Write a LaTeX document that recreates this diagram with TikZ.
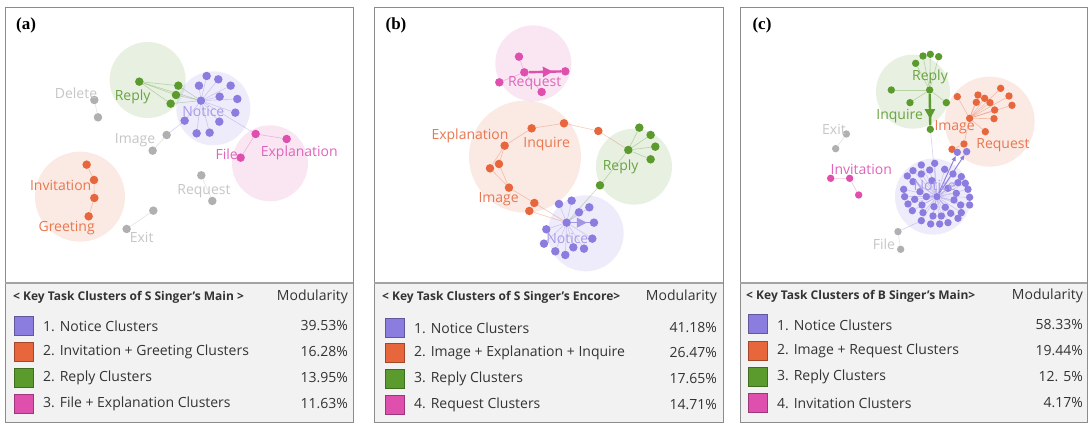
\documentclass[tikz,border=0pt]{standalone}
\usepackage{fontspec}
\setmainfont{Open Sans}
\newfontfamily\serifp{Liberation Serif}
\usetikzlibrary{arrows.meta,decorations.markings}
\definecolor{cpur}{HTML}{8B7DDF}
\definecolor{corg}{HTML}{E8663C}
\definecolor{cgrn}{HTML}{5B9B2E}
\definecolor{cpnk}{HTML}{DF4FAE}
\definecolor{cgry}{HTML}{B0B0B0}
\definecolor{lpur}{HTML}{A79CE9}
\definecolor{lorg}{HTML}{E97750}
\definecolor{lgrn}{HTML}{6AA440}
\definecolor{lpnk}{HTML}{E064BB}
\definecolor{lgry}{HTML}{C6C6C6}
\definecolor{tabbg}{HTML}{F2F2F2}
\definecolor{frame}{HTML}{8C8C8C}
\definecolor{txt}{HTML}{333333}
\pgfdeclarelayer{bgl}
\pgfdeclarelayer{blobl}
\pgfdeclarelayer{edgel}
\pgfsetlayers{bgl,blobl,edgel,main}
\tikzset{
  dotA/.style={circle,inner sep=0pt,minimum size=8.5pt,fill=#1,draw=none},
  dotC/.style={circle,inner sep=0pt,minimum size=7.4pt,fill=#1,draw=none},
  edge/.style={draw=#1,draw opacity=0.35,line width=0.6pt},
  blob/.style={circle,inner sep=0pt,fill=#1,fill opacity=0.14,draw=none},
  lab/.style={text=#1,font=\fontsize{14}{16}\selectfont,inner sep=0pt},
  heavy/.style={draw=#1,line width=2.4pt},
  midarrow/.style={decoration={markings,mark=at position #1 with {\arrow{Triangle[length=10pt,width=10pt]}}},postaction={decorate}},
  panel/.style={draw=frame,line width=0.8pt},
  sq/.style={minimum size=19pt,inner sep=0pt,fill=#1,draw=#1!70!black,line width=0.4pt},
  head/.style={text=txt,font=\bfseries\fontsize{12}{14}\selectfont,inner sep=0pt},
  row/.style={text=txt,font=\fontsize{14}{16}\selectfont,inner sep=0pt},
  plab/.style={font=\serifp\bfseries\fontsize{17}{19}\selectfont,inner sep=0pt,text=black}
}
\begin{document}
\begin{tikzpicture}[x=1pt,y=-1pt]
\useasboundingbox (0,0) rectangle (1092,428);
\begin{pgfonlayer}{bgl}
\fill[white] (0,0) rectangle (1092,428);
\fill[tabbg] (5,283) rectangle (353,422);
\fill[tabbg] (374,283) rectangle (723,422);
\fill[tabbg] (740,283) rectangle (1087,422);
\end{pgfonlayer}

% ---------------- frames and tables ----------------
\draw[panel] (5,7) rectangle (353,422);
\draw[panel] (374,7) rectangle (723,422);
\draw[panel] (740,7) rectangle (1087,422);
\draw[draw=frame!80,line width=1.6pt] (5,283) -- (353,283);
\draw[draw=frame!80,line width=1.6pt] (374,283) -- (723,283);
\draw[draw=frame!80,line width=1.6pt] (740,283) -- (1087,283);

\node[plab] (la) at (26,25) {(a)};
\node[plab] (lb) at (396,25) {(b)};
\node[plab] (lc) at (762,25) {(c)};

% table (a)
\node[head,anchor=west] (ah) at (13,297) {< Key Task Clusters of S Singer's Main >};
\node[row,anchor=east] (am) at (348,297) {Modularity};
\node[sq=cpur] (as1) at (23.5,326) {};
\node[sq=corg] (as2) at (23.5,352) {};
\node[sq=cgrn] (as3) at (23.5,378) {};
\node[sq=cpnk] (as4) at (23.5,404) {};
\node[row,anchor=west] (at1) at (43,326) {1. Notice Clusters};
\node[row,anchor=west] (at2) at (43,352) {2. Invitation + Greeting Clusters};
\node[row,anchor=west] (at3) at (43,378) {2. Reply Clusters};
\node[row,anchor=west] (at4) at (43,404) {3. File + Explanation Clusters};
\node[row,anchor=east] (av1) at (348,326) {39.53\%};
\node[row,anchor=east] (av2) at (348,352) {16.28\%};
\node[row,anchor=east] (av3) at (348,378) {13.95\%};
\node[row,anchor=east] (av4) at (348,404) {11.63\%};

% table (b)
\node[head,anchor=west] (bh) at (382,297) {< Key Task Clusters of S Singer's Encore>};
\node[row,anchor=east] (bm) at (717,297) {Modularity};
\node[sq=cpur] (bs1) at (395,328) {};
\node[sq=corg] (bs2) at (395,353) {};
\node[sq=cgrn] (bs3) at (395,379) {};
\node[sq=cpnk] (bs4) at (395,405) {};
\node[row,anchor=west] (bt1) at (414,328) {1. Notice Clusters};
\node[row,anchor=west] (bt2) at (414,353) {2. Image + Explanation + Inquire};
\node[row,anchor=west] (bt3) at (414,379) {3. Reply Clusters};
\node[row,anchor=west] (bt4) at (414,405) {4. Request Clusters};
\node[row,anchor=east] (bv1) at (717,328) {41.18\%};
\node[row,anchor=east] (bv2) at (717,353) {26.47\%};
\node[row,anchor=east] (bv3) at (717,379) {17.65\%};
\node[row,anchor=east] (bv4) at (717,405) {14.71\%};

% table (c)
\node[head,anchor=west] (ch) at (746,296) {< Key Task Clusters of B Singer's Main>};
\node[row,anchor=east] (cm) at (1083,296) {Modularity};
\node[sq=cpur] (cs1) at (757.5,324) {};
\node[sq=corg] (cs2) at (757.5,351) {};
\node[sq=cgrn] (cs3) at (757.5,377) {};
\node[sq=cpnk] (cs4) at (757.5,403) {};
\node[row,anchor=west] (ct1) at (777,325) {1. Notice Clusters};
\node[row,anchor=west] (ct2) at (777,351) {2. Image + Request Clusters};
\node[row,anchor=west] (ct3) at (777,377) {3. Reply Clusters};
\node[row,anchor=west] (ct4) at (777,403) {4. Invitation Clusters};
\node[row,anchor=east] (cv1) at (1083,325) {58.33\%};
\node[row,anchor=east] (cv2) at (1083,351) {19.44\%};
\node[row,anchor=east] (cv3) at (1083,377) {12. 5\%};
\node[row,anchor=east] (cv4) at (1083,403) {4.17\%};

% ---------------- panel (a) graph ----------------
\begin{scope}[shift={(0pt,0pt)},x=0.3333pt,y=-0.3333pt]
\begin{pgfonlayer}{blobl}
\node[blob=cgrn,minimum size=76pt] (aCg) at (443,240) {};
\node[blob=cpur,minimum size=74pt] (aCp) at (640,325) {};
\node[blob=cpnk,minimum size=76pt] (aCk) at (810,490) {};
\node[blob=corg,minimum size=90pt] (aCo) at (240,590) {};
\end{pgfonlayer}
\foreach \x/\y [count=\i] in {418/245,535/257,528/285,512/311}
  \node[dotA=cgrn] (ag\i) at (\x,\y) {};
\foreach \x/\y [count=\i] in {620/228,655/238,597/257,692/257,603/302,659/290,712/297,706/338,554/362,658/365,590/400,629/398}
  \node[dotA=cpur] (ap\i) at (\x,\y) {};
\foreach \x/\y [count=\i] in {767/402,860/417,722/473}
  \node[dotA=cpnk] (ak\i) at (\x,\y) {};
\foreach \x/\y [count=\i] in {260/494,282/540,283/594,266/649}
  \node[dotA=corg] (ao\i) at (\x,\y) {};
\foreach \x/\y [count=\i] in {283/300,294/352,500/405,458/452,604/526,637/603,460/632,380/687}
  \node[dotA=cgry] (ay\i) at (\x,\y) {};
\begin{pgfonlayer}{edgel}
\foreach \i in {2,3,4} \draw[edge=cgrn] (ag1) -- (ag\i);
\foreach \i in {1,2,3,4} \draw[edge=cgrn] (ag\i) -- (ap5);
\foreach \i in {1,2,3,4,6,7,8,9,10,11,12} \draw[edge=cpur] (ap5) -- (ap\i);
\draw[edge=cpur] (ap5) -- (ak1);
\draw[edge=cpnk] (ak1) -- (ak2);
\draw[edge=cpnk] (ak1) -- (ak3);
\draw[edge=corg] (ao1) -- (ao2) -- (ao3) -- (ao4);
\draw[edge=cgry] (ay1) -- (ay2);
\draw[edge=cgry] (ay3) -- (ay4);
\draw[edge=cpur] (ay3) -- (ap9);
\draw[edge=cgry] (ay5) -- (ay6);
\draw[edge=cgry] (ay7) -- (ay8);
\end{pgfonlayer}
\node[lab=lgrn] (aLr) at (398,292) {Reply};
\node[lab=lpur] (aLn) at (610,335) {Notice};
\node[lab=lpnk] (aLf) at (680,462) {File};
\node[lab=lpnk] (aLe) at (898,460) {Explanation};
\node[lab=lorg] (aLi) at (182,556) {Invitation};
\node[lab=lorg] (aLg) at (200,683) {Greeting};
\node[lab=lgry] (aLd) at (228,280) {Delete};
\node[lab=lgry] (aLm) at (405,422) {Image};
\node[lab=lgry] (aLq) at (612,573) {Request};
\node[lab=lgry] (aLx) at (425,713) {Exit};
\end{scope}

% ---------------- panel (b) graph ----------------
\begin{scope}[shift={(364pt,0pt)},x=0.3333pt,y=-0.3333pt]
\begin{pgfonlayer}{blobl}
\node[blob=cpnk,minimum size=76pt] (bCk) at (508,190) {};
\node[blob=corg,minimum size=112pt] (bCo) at (483,470) {};
\node[blob=cgrn,minimum size=76pt] (bCg) at (810,500) {};
\node[blob=cpur,minimum size=76pt] (bCp) at (665,700) {};
\end{pgfonlayer}
\foreach \x/\y [count=\i] in {465/170,481/217,604/214,406/247,533/276}
  \node[dotA=cpnk] (bk\i) at (\x,\y) {};
\foreach \x/\y [count=\i] in {503/385,600/370,703/393,422/437,378/505,405/492,435/563,511/609,496/633}
  \node[dotA=corg] (bo\i) at (\x,\y) {};
\foreach \x/\y [count=\i] in {826/383,860/405,874/440,860/478,793/450,708/556}
  \node[dotA=cgrn] (bg\i) at (\x,\y) {};
\foreach \x/\y [count=\i] in {585/612,623/602,676/622,645/637,608/668,690/668,547/688,685/716,540/731,628/742,660/746,574/754,604/765}
  \node[dotA=cpur] (bp\i) at (\x,\y) {};
\begin{pgfonlayer}{edgel}
\draw[edge=cpnk] (bk1) -- (bk2);
\draw[edge=cpnk] (bk4) -- (bk2);
\draw[edge=cpnk] (bk5) -- (bk2);
\draw[edge=corg] (bo1) -- (bo2) -- (bo3);
\draw[edge=corg] (bo3) -- (bg5);
\draw[edge=corg] (bo1) -- (bo4) -- (bo6) -- (bo7);
\draw[edge=corg] (bo4) -- (bo5) -- (bo7);
\draw[edge=corg] (bo7) -- (bo8) -- (bo9);
\draw[edge=corg] (bo9) -- (bp5);
\draw[edge=corg] (bo8) -- (bp5);
\foreach \i in {1,2,3,4,6} \draw[edge=cgrn] (bg5) -- (bg\i);
\draw[edge=cgrn] (bg6) -- (bp5);
\foreach \i in {1,2,3,4,7,8,9,10,11,12,13} \draw[edge=cpur] (bp5) -- (bp\i);
\end{pgfonlayer}
\draw[heavy=cpnk,midarrow=0.75] (bk2) -- (bk3);
\draw[heavy=cpur!80,line width=1.2pt,midarrow=0.85] (bp5) -- (bp6);
\node[lab=lpnk] (bLq) at (512,250) {Request};
\node[lab=lorg] (bLe) at (318,408) {Explanation};
\node[lab=lorg] (bLi) at (548,432) {Inquire};
\node[lab=lorg] (bLm) at (404,598) {Image};
\node[lab=lgrn] (bLr) at (770,500) {Reply};
\node[lab=lpur] (bLn) at (610,715) {Notice};
\end{scope}

% ---------------- panel (c) graph ----------------
\begin{scope}[shift={(728pt,0pt)},x=0.3333pt,y=-0.3333pt]
\begin{pgfonlayer}{blobl}
\node[blob=cgrn,minimum size=74pt] (cCg) at (555,275) {};
\node[blob=corg,minimum size=90pt] (cCo) at (785,365) {};
\node[blob=cpur,minimum size=76pt] (cCp) at (615,590) {};
\end{pgfonlayer}
\foreach \x/\y [count=\i] in {563/190,585/168,607/163,632/170,490/270,605/270,546/308,655/308,607/388}
  \node[dotC=cgrn] (cg\i) at (\x,\y) {};
\foreach \x/\y [count=\i] in {688/290,750/285,770/295,818/265,843/288,852/316,745/307,786/308,800/330,725/355,798/356,772/395,708/432,672/448}
  \node[dotC=corg] (co\i) at (\x,\y) {};
\node[dotC=cpur] (chub) at (627,590) {};
\node[dotC=cpur] (cq1) at (688,457) {};
\node[dotC=cpur] (cq2) at (716,455) {};
\foreach \x/\y [count=\i] in {580/495,620/490,555/512,605/510,650/508,538/528,580/522,675/522,700/530,555/545,612/542,690/548,712/550,527/568,576/575,660/565,720/568,530/590,560/598,595/590,685/580,725/592,540/612,582/615,618/620,652/622,678/600,698/615,725/615,553/632,585/638,615/648,640/648,668/640,700/638,580/662,608/672,635/672,660/668,690/655}
  \node[dotC=cpur] (cp\i) at (\x,\y) {};
\foreach \x/\y [count=\i] in {308/535,365/535,392/585}
  \node[dotC=cpnk] (ck\i) at (\x,\y) {};
\foreach \x/\y [count=\i] in {355/402,323/446,510/695,518/748}
  \node[dotC=cgry] (cy\i) at (\x,\y) {};
\begin{pgfonlayer}{edgel}
\foreach \i in {1,2,3,4,5,7,8} \draw[edge=cgrn] (cg6) -- (cg\i);
\draw[edge=cpur] (cg9) -- (chub);
\foreach \i in {1,2,3,4,5,6,7,8,9,11,12,13} \draw[edge=corg] (co10) -- (co\i);
\draw[edge=corg] (co13) -- (co14);
\foreach \i in {1,...,40} \draw[edge=cpur] (chub) -- (cp\i);
\draw[edge=cpnk] (ck1) -- (ck2) -- (ck3);
\draw[edge=cgry] (cy1) -- (cy2);
\draw[edge=cgry] (cy3) -- (cy4);
\draw[edge=cpur] (cy3) -- (cp36);
\end{pgfonlayer}
\draw[draw=cpur,line width=0.9pt,-{Triangle[length=5pt,width=4pt]}] (chub) -- (cq1);
\draw[draw=cpur,line width=0.9pt,-{Triangle[length=5pt,width=4pt]}] (chub) -- (cq2);
\draw[heavy=cgrn,midarrow=0.8] (cg6) -- (cg9);
\node[lab=lgrn] (cLr) at (606,232) {Reply};
\node[lab=lgrn] (cLi) at (515,347) {Inquire};
\node[lab=lorg] (cLm) at (680,383) {Image};
\node[lab=lorg] (cLq) at (825,437) {Request};
\node[lab=lpur] (cLn) at (620,555) {Notice};
\node[lab=lpnk] (cLv) at (400,508) {Invitation};
\node[lab=lgry] (cLx) at (318,388) {Exit};
\node[lab=lgry] (cLf) at (468,733) {File};
\end{scope}
\end{tikzpicture}
\end{document}
